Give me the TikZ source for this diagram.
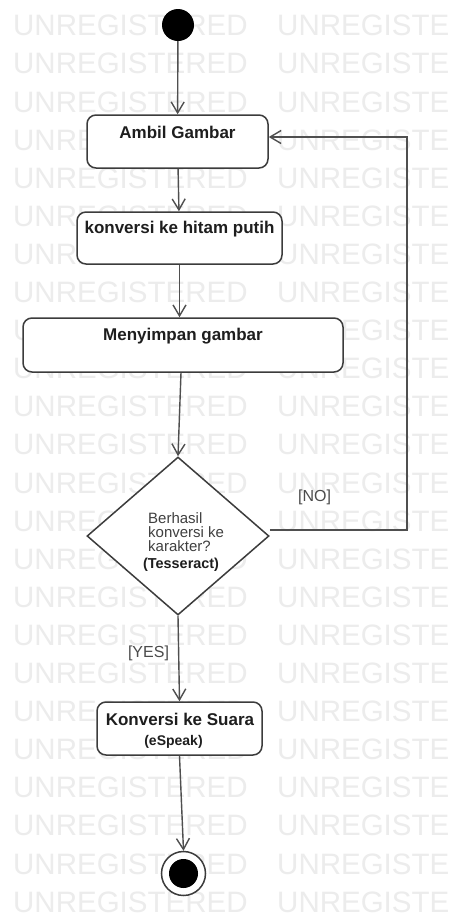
\documentclass[tikz,border=0pt]{standalone}
\usepackage{fontspec}
\setmainfont{Liberation Sans}
\usetikzlibrary{shapes.geometric,arrows.meta}
\definecolor{linec}{HTML}{4F4F4F}
\definecolor{boxc}{HTML}{3C3C3C}
\definecolor{txtc}{HTML}{1E1E1E}
\definecolor{wmc}{HTML}{ECECEC}
\begin{document}
\begin{tikzpicture}[x=1pt,y=-1pt,
 wm/.style={font=\fontsize{29.5}{30}\selectfont, text=wmc, inner sep=0, anchor=north west},
 actbox/.style={draw=boxc, line width=1.5pt, fill=white, rounded corners=9pt, inner sep=0, text=txtc, font=\fontsize{17}{20}\selectfont\bfseries},
 arr/.style={draw=linec, line width=1.4pt, -{Straight Barb[length=11pt,width=13pt]}},
 guard/.style={font=\fontsize{16}{18}\selectfont, text=txtc!80, inner sep=0}]
\path[use as bounding box, fill=white] (0,0) rectangle (460,919);
\foreach \i in {0,...,23}{
 \node[wm] (wa\i) at (13,15+38.1*\i) {UNREGISTERED};
 \node[wm] (wb\i) at (277,15+38.1*\i) {UNREGISTE};
}
\node[circle, fill=black, minimum size=32pt, inner sep=0] (start) at (178,25) {};
\node[actbox, minimum width=181pt, text height=23pt, text depth=30pt] (ambil) at (177.5,141.5) {Ambil Gambar};
\node[actbox, minimum width=205pt, text height=21pt, text depth=31pt] (konv) at (179.5,238) {konversi ke hitam putih};
\node[actbox, minimum width=320pt, text height=22pt, text depth=32pt] (simpan) at (183,345) {Menyimpan gambar};
\node[diamond, draw=boxc, line width=1.5pt, fill=white, minimum width=182pt, minimum height=158pt, inner sep=0] (dec) at (178,536) {};
\node[anchor=north west, align=left, inner sep=0, text=txtc!85, font=\fontsize{15}{14}\selectfont] (dtxt) at (148,512.2)
 {Berhasil\\konversi ke\\karakter?\\[3pt]\hspace*{-5pt}{\fontsize{14.4}{14}\selectfont\bfseries\color{txtc}(Tesseract)}};
\node[guard] (no) at (314.5,497.5) {[NO]};
\node[guard] (yes) at (148.5,653) {[YES]};
\node[draw=boxc, line width=1.5pt, fill=white, rounded corners=9pt, minimum width=165pt, minimum height=53pt, inner sep=0] (suara) at (179.5,728.5) {};
\node[anchor=north, align=center, inner sep=0, text=txtc, font=\fontsize{17}{20}\selectfont\bfseries] (stxt) at (180,712.5)
 {Konversi ke Suara\\[0pt]{\fontsize{14}{16}\selectfont(eSpeak)\hspace*{13pt}}};
\node[circle, draw=boxc, line width=1.5pt, fill=white, minimum size=44pt, inner sep=0] (end) at (183.5,873.5) {};
\node[circle, fill=black, minimum size=29pt, inner sep=0] (endin) at (end.center) {};
\coordinate (ne) at (407,137);
\draw[arr] (start) -- (ambil);
\draw[arr] (ambil) -- (konv);
\draw[arr] (konv.south) -- (konv.south |- simpan.north);
\draw[arr] ([xshift=-2pt]simpan.south) -- (dec.north);
\draw[arr] (dec.south) -- (suara.north);
\draw[arr] (suara.south) -- (end.north);
\draw[arr] ([yshift=6pt]dec.east) -| (ne) -- (ambil.east |- ne);
\end{tikzpicture}
\end{document}
